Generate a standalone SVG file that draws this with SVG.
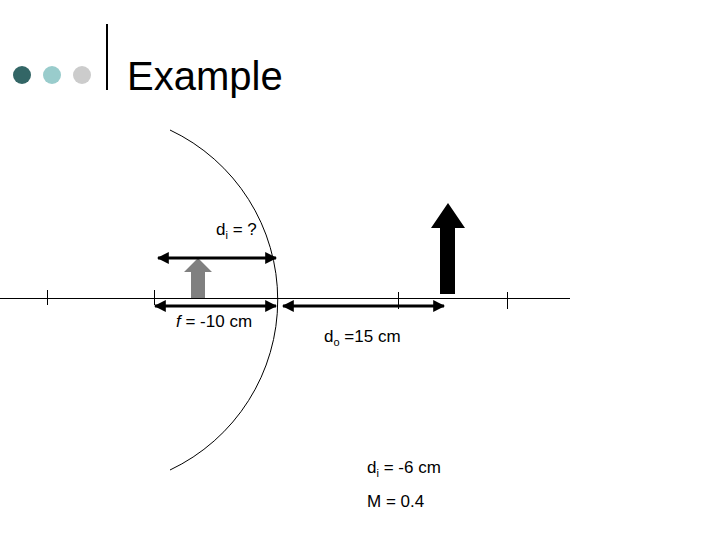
<svg xmlns="http://www.w3.org/2000/svg" width="720" height="540" viewBox="0 0 720 540">
<defs>
<marker id="ah" viewBox="0 0 10 10" refX="9" refY="5" markerWidth="4" markerHeight="4" orient="auto-start-reverse"><path d="M0,0L10,5L0,10z" fill="#000"/></marker>
<style>.t{font-family:"Liberation Sans",Arial,sans-serif;fill:#000}.ln{stroke:#000;fill:none}.dim{stroke:#000;stroke-width:3;marker-start:url(#ah);marker-end:url(#ah)}</style>
</defs>
<rect width="720" height="540" fill="#fff"/>
<g id="header">
<circle cx="22" cy="75" r="9" fill="#336666"/>
<circle cx="52" cy="75" r="9" fill="#99cccc"/>
<circle cx="82" cy="75" r="9" fill="#cccccc"/>
<line x1="107" y1="24" x2="107" y2="90" class="ln" stroke-width="2"/>
<text x="127" y="90" class="t" font-size="40">Example</text>
</g>
<g id="mirror"><path d="M170,130 A188,188 0 0 1 170,470" class="ln" stroke-width="1"/></g>
<g id="axis">
<line x1="0" y1="298.5" x2="570" y2="298.5" class="ln"/>
<line x1="47.5" y1="290" x2="47.5" y2="305" class="ln"/>
<line x1="154.5" y1="290" x2="154.5" y2="305" class="ln"/>
<line x1="398.5" y1="292" x2="398.5" y2="309" class="ln"/>
<line x1="507.5" y1="292" x2="507.5" y2="309" class="ln"/>
</g>
<g id="image-arrow"><path d="M191,298V272H184L198,258L212,272H205V298Z" fill="#808080"/></g>
<g id="object-arrow"><path d="M440,294V228H431L448,203L465,228H455V294Z" fill="#000"/></g>
<g id="connectors">
<line x1="158" y1="258" x2="276" y2="258" class="dim"/>
<line x1="155" y1="306" x2="276" y2="306" class="dim"/>
<line x1="283" y1="306" x2="444" y2="306" class="dim"/>
</g>
<g id="labels" class="t" font-size="17">
<text x="216" y="235" class="t">d<tspan font-size="11" dy="4">i</tspan><tspan dy="-4"> = ?</tspan></text>
<text x="176" y="327" class="t"><tspan font-style="italic">f</tspan> = -10 cm</text>
<text x="324" y="342" class="t">d<tspan font-size="11" dy="4">o</tspan><tspan dy="-4"> =15 cm</tspan></text>
<text x="367" y="473" class="t">d<tspan font-size="11" dy="4">i</tspan><tspan dy="-4"> = -6 cm</tspan></text>
<text x="367" y="507" class="t">M = 0.4</text>
</g>
</svg>
